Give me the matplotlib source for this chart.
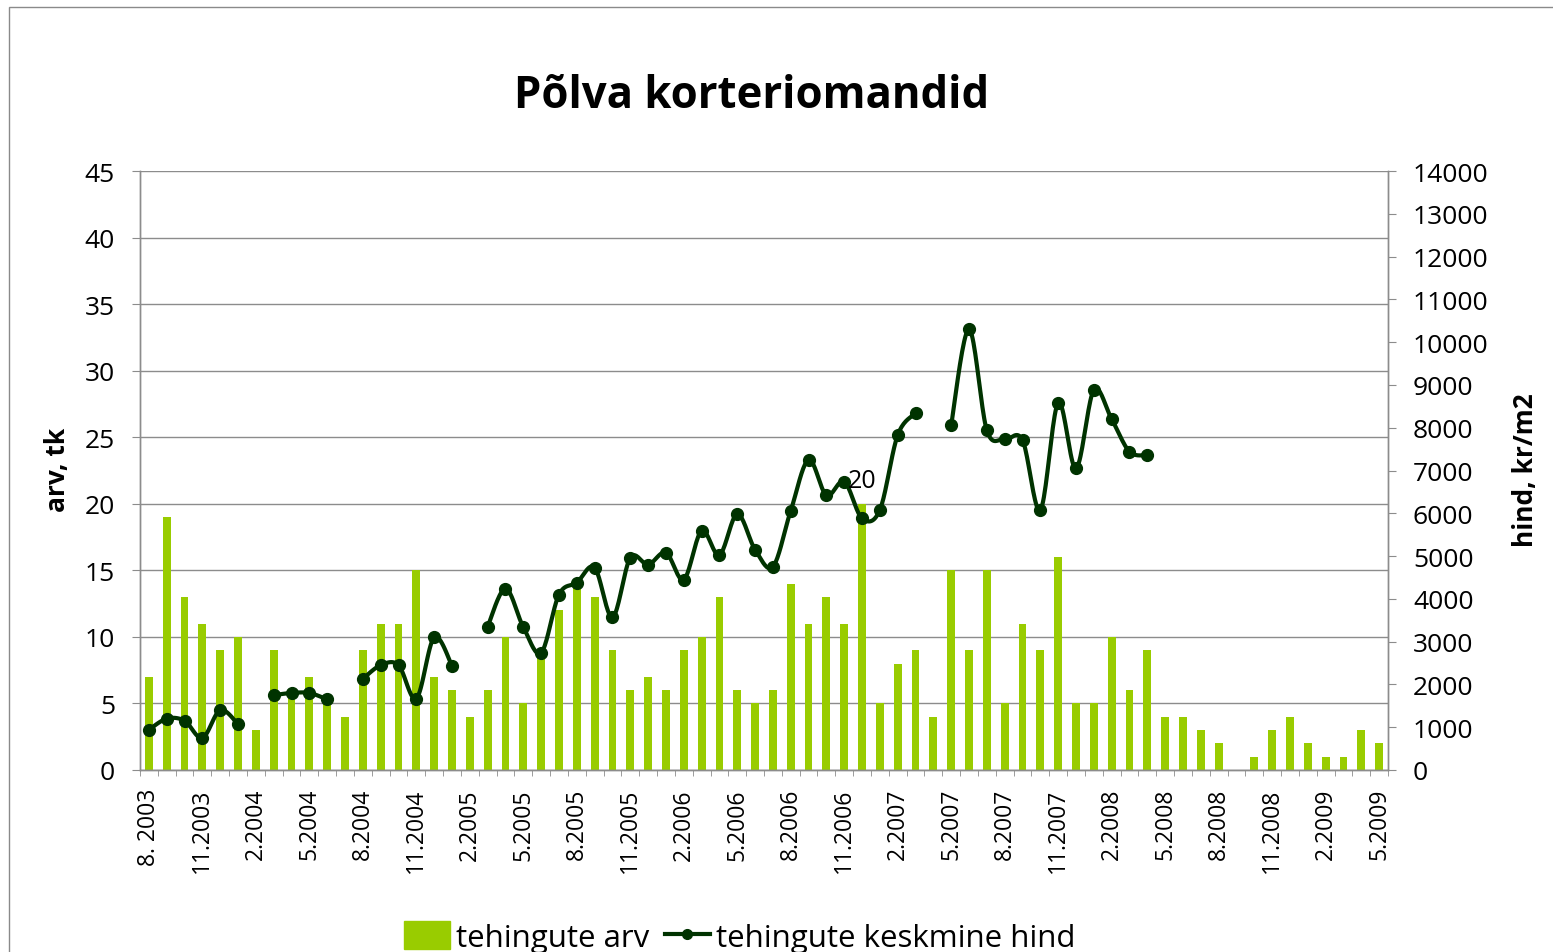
import numpy as np
import matplotlib
matplotlib.use("Agg")
import matplotlib.pyplot as plt
from matplotlib.patches import Rectangle
from matplotlib.lines import Line2D

plt.rcParams['font.family'] = ['Open Sans', 'DejaVu Sans']

# Monthly deals, 8.2003 .. 5.2009
deals = [7, 19, 13, 11, 9, 10, 3, 9, 6, 7, 5, 4, 9, 11, 11, 15, 7, 6, 4, 6,
         10, 5, 9, 12, 14, 13, 9, 6, 7, 6, 9, 10, 13, 6, 5, 6, 14, 11, 13, 11,
         20, 5, 8, 9, 4, 15, 9, 15, 5, 11, 9, 16, 5, 5, 10, 6, 9, 4, 4, 3,
         2, 0, 1, 3, 4, 2, 1, 1, 3, 2]

# Average price, kr/m2 (None = no data that month)
prices = [940, 1200, 1150, 750, 1400, 1070, None, 1750, 1800, 1800, 1650, None,
          2130, 2450, 2450, 1670, 3100, 2440, None, 3350, 4240, 3340, 2740, 4100,
          4380, 4730, 3570, 4960, 4800, 5080, 4450, 5590, 5025, 5980, 5150, 4750,
          6060, 7250, 6420, 6740, 5880, 6080, 7830, 8340, None, 8070, 10300, 7940,
          7730, 7710, 6080, 8580, 7050, 8880, 8200, 7440, 7360,
          None, None, None, None, None, None, None, None, None, None, None, None, None]

tick_labels = ["8. 2003", "11.2003", "2.2004", "5.2004", "8.2004", "11.2004",
               "2.2005", "5.2005", "8.2005", "11.2005", "2.2006", "5.2006",
               "8.2006", "11.2006", "2.2007", "5.2007", "8.2007", "11.2007",
               "2.2008", "5.2008", "8.2008", "11.2008", "2.2009", "5.2009"]

title = "Põlva korteriomandid"
bar_name = "tehingute arv"
line_name = "tehingute keskmine hind"

BAR_C = "#99CC00"
LINE_C = "#003300"
GRID_C = "#8c8c8c"


def catmull_rom(xs, ys, n=20):
    pts = np.column_stack([xs, ys]).astype(float)
    if len(pts) < 3:
        return pts[:, 0], pts[:, 1]
    P = np.vstack([pts[0], pts, pts[-1]])
    t = np.linspace(0, 1, n, endpoint=False)[:, None]
    out = []
    for k in range(1, len(P) - 2):
        p0, p1, p2, p3 = P[k - 1], P[k], P[k + 1], P[k + 2]
        c = 0.5 * (2 * p1 + (-p0 + p2) * t
                   + (2 * p0 - 5 * p1 + 4 * p2 - p3) * t ** 2
                   + (-p0 + 3 * p1 - 3 * p2 + p3) * t ** 3)
        out.append(c)
    out.append(pts[-1][None, :])
    out = np.vstack(out)
    return out[:, 0], out[:, 1]


W, H = 1553, 953
fig = plt.figure(figsize=(W / 100, H / 100), dpi=100)
ax = fig.add_axes([140 / W, 1 - 771 / H, (1388 - 140) / W, (771 - 172) / H])
ax2 = ax.twinx()

x = np.arange(len(deals))
ax.bar(x, deals, width=0.44, color=BAR_C, zorder=2)
ax.set_xlim(-0.5, len(deals) - 0.5)
ax.set_ylim(0, 45)
ax.set_yticks(np.arange(0, 46, 5))
ax.yaxis.grid(True, color=GRID_C, lw=1)
ax.set_axisbelow(True)

# price line, smoothed per contiguous run
seg_x, seg_y = [], []
runs = []
for i, p in enumerate(prices + [None]):
    if p is None:
        if seg_x:
            runs.append((seg_x, seg_y))
        seg_x, seg_y = [], []
    else:
        seg_x.append(i)
        seg_y.append(p)
for sx, sy in runs:
    cx, cy = catmull_rom(sx, sy)
    ax2.plot(cx, cy, color=LINE_C, lw=3.0, solid_capstyle='round',
             solid_joinstyle='round', zorder=3)
    ax2.plot(sx, sy, 'o', color=LINE_C, ms=8.5, zorder=4)
ax2.set_ylim(0, 14000)
ax2.set_yticks(np.arange(0, 14001, 1000))

# value label on the largest bar
imax = int(np.argmax(deals))
ax2.annotate(str(deals[imax]), xy=(imax, deals[imax]), xycoords=ax.transData,
             xytext=(0, 8), textcoords='offset points', ha='center', va='bottom',
             fontsize=18, color='black', zorder=6)

# x ticks: labels every third month, marks at month boundaries
ax.set_xticks(np.arange(0, len(deals), 3))
ax.set_xticklabels(tick_labels, rotation=90, fontsize=16.5, va='top')
ax.set_xticks(np.arange(-0.5, len(deals), 1), minor=True)
ax.tick_params(axis='x', which='major', length=0, pad=13)
ax.tick_params(axis='x', which='minor', length=4.5, color=GRID_C, direction='out')
ax.tick_params(axis='y', length=6, color=GRID_C, labelsize=19, pad=12)
ax2.tick_params(axis='y', length=6, color=GRID_C, labelsize=19, pad=12)

for a in (ax, ax2):
    for s in a.spines.values():
        s.set_color(GRID_C)
        s.set_linewidth(1)
    a.spines['top'].set_visible(False)

fig.text(58 / W, 1 - 470 / H, "arv, tk", rotation=90, fontsize=19,
         fontweight='bold', ha='center', va='center')
fig.text(1525 / W, 1 - 470 / H, "hind, kr/m2", rotation=90, fontsize=19,
         fontweight='bold', ha='center', va='center')

fig.text(752 / W, 1 - 96 / H, title, fontsize=31.5, fontweight='bold',
         ha='center', va='center')

handles = [Rectangle((0, 0), 1, 1, color=BAR_C),
           Line2D([], [], color=LINE_C, lw=3.0, marker='o', ms=7)]
fig.legend(handles, [bar_name, line_name], loc='center',
           bbox_to_anchor=(740 / W, 1 - 938 / H), ncol=2, frameon=False,
           fontsize=22.5, handlelength=1.45, handleheight=1.0,
           handletextpad=0.2, columnspacing=0.5)

# outer chart frame
fig.add_artist(Rectangle((9 / W, -0.05), 1.2, 1 - 8 / H + 0.05,
                         transform=fig.transFigure, fill=False,
                         edgecolor='#8a8a8a', lw=1))

fig.savefig("out.png", dpi=100)
